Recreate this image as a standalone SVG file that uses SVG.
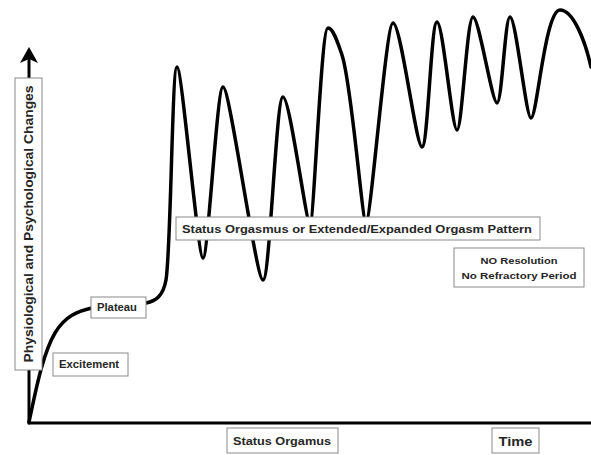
<svg xmlns="http://www.w3.org/2000/svg" width="591" height="455" viewBox="0 0 591 455">
<defs>
<style>
.box{fill:#fff;stroke:#8a8a8a;stroke-width:1}
.t{font-family:"Liberation Sans",Arial,sans-serif;font-weight:bold;fill:#262626}
.line{fill:none;stroke:#000;stroke-linecap:round;stroke-linejoin:round}
</style>
</defs>
<rect width="591" height="455" fill="#fff"/>
<g id="connectors">
<path class="line" stroke-width="3" d="M29,423 L29,60"/>
<path d="M29,47 L20,63 L29,59 L38,63 Z" fill="#000"/>
<path class="line" stroke-width="3" d="M29,423 L591,423"/>
<path class="line" stroke-width="3.5" d="M29,422 C35,395 42,355 55,333 C65,316 78,311 92,308 L146,303 C156,301 163,296 166,280 C171,250 172,67 177,67 C182,67 198,258 203,258 C208,258 217,87 223,87 C230,87 256,280 263,280 C270,280 276,97 283,97 C290,97 306,224 310,224 C314,224 321,28 328,28 C333,28 337,40 342,55 C352,85 362,222 366,222 C371,222 386,23 393,23 C401,23 416,147 422,147 C428,147 431,22 437,22 C443,22 452,130 457,130 C462,130 467,17 473,17 C479,17 492,103 497,103 C502,103 505,17 510,17 C516,17 526,118 531,118 C537,118 545,10 560,10 C573,10 585,40 591,67"/>
</g>
<g id="y-axis-label">
<rect class="box" x="15" y="78" width="27" height="292"/>
<text class="t" font-size="13" transform="translate(33,224) rotate(-90)" text-anchor="middle" textLength="277" lengthAdjust="spacingAndGlyphs">Physiological and Psychological Changes</text>
</g>
<g id="excitement">
<rect class="box" x="53" y="353" width="75" height="23"/>
<text class="t" font-size="10" x="89" y="368" text-anchor="middle" textLength="60" lengthAdjust="spacingAndGlyphs">Excitement</text>
</g>
<g id="plateau">
<rect class="box" x="91" y="297" width="55" height="21"/>
<text class="t" font-size="10" x="117" y="311" text-anchor="middle" textLength="40" lengthAdjust="spacingAndGlyphs">Plateau</text>
</g>
<g id="status-orgasmus-pattern">
<rect class="box" x="176" y="217" width="364" height="23"/>
<text class="t" font-size="11" x="357" y="233" text-anchor="middle" textLength="350" lengthAdjust="spacingAndGlyphs">Status Orgasmus or Extended/Expanded Orgasm Pattern</text>
</g>
<g id="no-resolution">
<rect class="box" x="454" y="248" width="130" height="39"/>
<text class="t" font-size="9.5" x="519" y="264" text-anchor="middle" textLength="77" lengthAdjust="spacingAndGlyphs">NO Resolution</text>
<text class="t" font-size="9.5" x="519" y="279" text-anchor="middle" textLength="115" lengthAdjust="spacingAndGlyphs">No Refractory Period</text>
</g>
<g id="status-orgamus">
<rect class="box" x="227" y="428" width="111" height="25"/>
<text class="t" font-size="11" x="282" y="445" text-anchor="middle" textLength="98" lengthAdjust="spacingAndGlyphs">Status Orgamus</text>
</g>
<g id="time">
<rect class="box" x="492" y="428" width="47" height="25"/>
<text class="t" font-size="13" x="515.5" y="446" text-anchor="middle" textLength="34" lengthAdjust="spacingAndGlyphs">Time</text>
</g>
</svg>
